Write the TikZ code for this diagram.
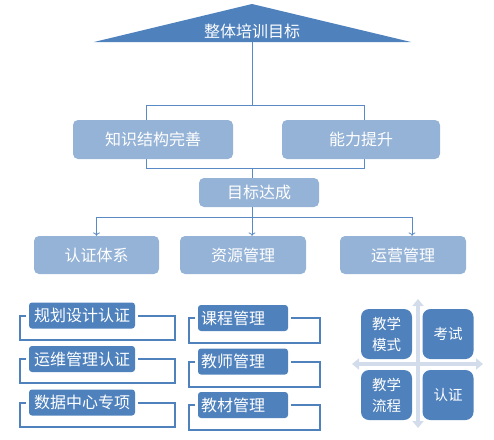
\documentclass[tikz,border=0pt]{standalone}
\usepackage{fontspec}
\setmainfont{Noto Sans CJK SC}
\usetikzlibrary{arrows.meta}
\definecolor{darkblue}{HTML}{4F81BD}
\definecolor{lightblue}{HTML}{95B3D7}
\definecolor{linkblue}{HTML}{5A8AC6}
\definecolor{crossgray}{HTML}{D3DCEA}

\begin{document}
\begin{tikzpicture}[x=1pt,y=-1pt,
  lightbox/.style={fill=lightblue, rounded corners=5pt, text=white, inner sep=0pt, font=\fontsize{16}{18}\selectfont},
  darkbox/.style={fill=darkblue, rounded corners=3pt, text=white, inner sep=0pt, minimum height=26pt, font=\fontsize{16}{18}\selectfont},
  quadbox/.style={fill=darkblue, rounded corners=8pt, text=white, minimum width=51pt, minimum height=50pt, inner sep=0pt, align=center, font=\fontsize{14.5}{21}\selectfont},
  link/.style={draw=linkblue, line width=0.8pt},
  bracket/.style={draw=darkblue, line width=2pt},
  cross/.style={draw=crossgray, line width=4pt, {Triangle[width=11pt,length=7pt]}-{Triangle[width=11pt,length=7pt]}}
]
\useasboundingbox (0,0) rectangle (494,439);

% overall goal
\fill[darkblue] (94,42) -- (252,4) -- (411,42) -- cycle;
\node[text=white, font=\fontsize{16}{18}\selectfont] (goal) at (252,31) {整体培训目标};
\coordinate (base) at (252,42);
\coordinate (split) at (252,105);
\coordinate (hub) at (252,217);

% goal tree
\draw[link] (base) -- (split);
\draw[link] (146,105) rectangle (364,168);
\node[lightbox, minimum width=160pt, minimum height=39pt] (know) at (153,139.5) {知识结构完善};
\node[lightbox, minimum width=158pt, minimum height=39pt] (ability) at (361,139.5) {能力提升};
\node[lightbox, minimum width=120pt, minimum height=29pt] (achieve) at (259,192.5) {目标达成};
\draw[link] (split |- know.south) ++(0,8.5) -- (achieve.north -| split);
\draw[link] (achieve.south -| hub) -- (hub);

\node[lightbox, minimum width=125pt, minimum height=38pt] (cert) at (96.5,255) {认证体系};
\node[lightbox, minimum width=126pt, minimum height=38pt] (res) at (243,255) {资源管理};
\node[lightbox, minimum width=126pt, minimum height=38pt] (ops) at (403,255) {运营管理};
\draw[link,->] (hub) -| (cert.north);
\draw[link,->] (hub) -- (hub |- res.north);
\draw[link,->] (hub) -| ([xshift=9pt]ops.north);

% certification items
\foreach \name/\txt/\cy in {plan/规划设计认证/315.5, maint/运维管理认证/359, data/数据中心专项/402.5}{
  \node[darkbox, minimum width=106pt] (\name) at (82,\cy) {\txt};
  \draw[bracket] ([xshift=-3pt]\name.west) -| (20,\cy+24) -| (175,\cy) -- ([xshift=3pt]\name.east);
}

% resource items
\foreach \name/\txt/\cy in {course/课程管理/318, teach/教师管理/361.5, mater/教材管理/405}{
  \node[darkbox, text width=84pt, inner xsep=3pt, align=left] (\name) at (243,\cy) {\txt};
  \draw[bracket] ([xshift=-3pt]\name.west) -| (189,\cy+25) -| (320,\cy) -- ([xshift=3pt]\name.east);
}

% operation quadrants
\draw[cross] (418,428) -- (418,299);
\draw[cross] (352,364) -- (483,364);
\node[quadbox] (mode) at (386.5,334) {教学\\模式};
\node[quadbox] (exam) at (448,334) {考试};
\node[quadbox] (flow) at (386.5,395) {教学\\流程};
\node[quadbox] (auth) at (448,395) {认证};

\end{tikzpicture}
\end{document}
